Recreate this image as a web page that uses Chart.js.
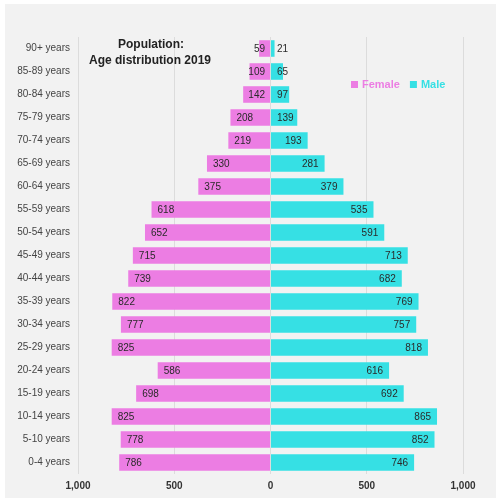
<!DOCTYPE html>
<html lang="en">
<head>
  <meta charset="UTF-8">
  <title>Population: Age distribution 2019</title>
  <script src="https://cdn.jsdelivr.net/npm/chart.js"></script>
  <style>
    html, body { margin: 0; padding: 0; background: #fff; }
    .chart-box { position: relative; width: 496px; height: 503px; }
  </style>
</head>
<body>
  <div class="chart-box">
    <canvas id="pyramid" width="496" height="503"></canvas>
  </div>

  <script>
    // Age groups, top to bottom
    const ageGroups = [
      '90+ years', '85-89 years', '80-84 years', '75-79 years', '70-74 years',
      '65-69 years', '60-64 years', '55-59 years', '50-54 years', '45-49 years',
      '40-44 years', '35-39 years', '30-34 years', '25-29 years', '20-24 years',
      '15-19 years', '10-14 years', '5-10 years', '0-4 years'
    ];
    const female = [59, 109, 142, 208, 219, 330, 375, 618, 652, 715, 739, 822, 777, 825, 586, 698, 825, 778, 786];
    const male   = [21, 65, 97, 139, 193, 281, 379, 535, 591, 713, 682, 769, 757, 818, 616, 692, 865, 852, 746];
    const xTicks = [-1000, -500, 0, 500, 1000];

    const pink = '#ec7de3';
    const cyan = '#36e0e4';
    const fontFamily = '"Liberation Sans", Arial, sans-serif';

    // grey panel behind everything
    const panelBg = {
      id: 'panelBg',
      beforeDraw(chart) {
        const ctx = chart.ctx;
        ctx.save();
        ctx.fillStyle = '#f2f2f2';
        ctx.fillRect(5, 4, 491, 494);
        ctx.restore();
      }
    };

    // value labels on each bar
    const barLabels = {
      id: 'barLabels',
      afterDatasetsDraw(chart) {
        const ctx = chart.ctx;
        ctx.save();
        ctx.font = '10px ' + fontFamily;
        ctx.fillStyle = '#2a2a2a';
        ctx.textBaseline = 'middle';
        chart.data.datasets.forEach((ds, i) => {
          chart.getDatasetMeta(i).data.forEach((bar, j) => {
            const txt = String(Math.abs(ds.data[j]));
            const w = ctx.measureText(txt).width;
            if (ds.data[j] < 0) {
              ctx.textAlign = 'left';
              ctx.fillText(txt, Math.min(bar.x + 6, bar.base - 5 - w), bar.y + 1);
            } else {
              ctx.textAlign = 'right';
              ctx.fillText(txt, Math.max(bar.x - 6, bar.base + 6 + w), bar.y + 1);
            }
          });
        });
        ctx.restore();
      }
    };

    // title and legend sit inside the plot
    const overlay = {
      id: 'overlay',
      afterDraw(chart) {
        const ctx = chart.ctx;
        ctx.save();
        ctx.fillStyle = '#222';
        ctx.font = 'bold 12px ' + fontFamily;
        ctx.textAlign = 'center';
        ctx.textBaseline = 'middle';
        ctx.fillText('Population:', 151, 45);
        ctx.fillText('Age distribution 2019', 150, 61);

        ctx.font = 'bold 11px ' + fontFamily;
        ctx.textAlign = 'left';
        let x = 351;
        chart.data.datasets.forEach(ds => {
          ctx.fillStyle = ds.backgroundColor;
          ctx.fillRect(x, 81, 7, 7);
          ctx.fillText(ds.label, x + 11, 85);
          x += 11 + ctx.measureText(ds.label).width + 10;
        });
        ctx.restore();
      }
    };

    new Chart(document.getElementById('pyramid'), {
      type: 'bar',
      data: {
        labels: ageGroups,
        datasets: [
          { label: 'Female', data: female.map(v => -v), backgroundColor: pink },
          { label: 'Male', data: male, backgroundColor: cyan }
        ]
      },
      options: {
        indexAxis: 'y',
        responsive: false,
        animation: false,
        layout: { padding: { top: 37, right: 33, bottom: 7, left: 0 } },
        datasets: { bar: { categoryPercentage: 1, barPercentage: 0.72 } },
        plugins: {
          legend: { display: false },
          tooltip: { enabled: false }
        },
        scales: {
          x: {
            stacked: true,
            min: -1000,
            max: 1000,
            afterBuildTicks: s => { s.ticks = xTicks.map(v => ({ value: v })); },
            afterFit: s => { s.height = 22; },
            grid: { color: '#dcdcdc', drawTicks: false },
            border: { display: false },
            ticks: {
              padding: 6,
              color: '#333',
              font: { family: fontFamily, size: 10, weight: 'bold' },
              callback: v => Math.abs(v).toLocaleString('en-US')
            }
          },
          y: {
            stacked: true,
            afterFit: s => { s.width = 78; },
            grid: { display: false },
            border: { display: false },
            ticks: {
              padding: 0,
              color: '#444',
              font: { family: fontFamily, size: 10 }
            }
          }
        }
      },
      plugins: [panelBg, barLabels, overlay]
    });
  </script>
</body>
</html>
